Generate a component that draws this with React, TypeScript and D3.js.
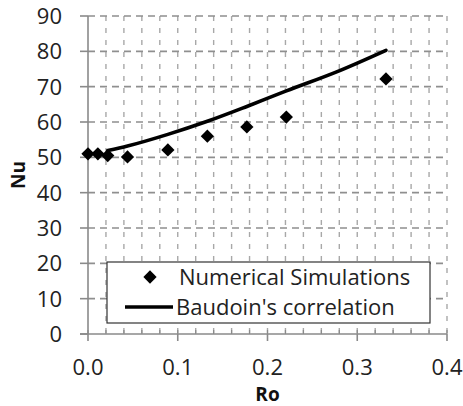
import React from "react";
import * as d3 from "d3";

// Numerical simulation results
const simRo = [0, 0.011, 0.022, 0.044, 0.089, 0.133, 0.177, 0.221, 0.332];
const simNu = [51, 51, 50.5, 50.1, 52.1, 56.0, 58.6, 61.4, 72.2];

// Baudoin's correlation curve
const corrRo = [0.022, 0.044, 0.089, 0.133, 0.177, 0.221, 0.277, 0.332];
const corrNu = [51.9, 53.2, 56.5, 60.2, 64.4, 68.8, 74.2, 80.3];

const xTicks = [0, 0.1, 0.2, 0.3, 0.4];
const xMinor = d3.range(0, 0.4001, 0.02);
const yTicks = [0, 10, 20, 30, 40, 50, 60, 70, 80, 90];

const legendLabels = ["Numerical Simulations", "Baudoin's correlation"];

const W = 463;
const H = 406;
const margin = { left: 88, right: 16, top: 16, bottom: 72 };
const FONT = "'Open Sans', 'Liberation Sans', sans-serif";

export default function App() {
  const x = d3.scaleLinear().domain([0, 0.4]).range([margin.left, W - margin.right]);
  const y = d3.scaleLinear().domain([0, 90]).range([H - margin.bottom, margin.top]);
  const line = d3
    .line<number>()
    .x((_, i) => x(corrRo[i]))
    .y((d) => y(d))
    .curve(d3.curveMonotoneX);
  const diamond = d3.symbol(d3.symbolSquare, 88)();
  const axisColor = "#8a8a8a";
  const x0 = x(0);
  const x1 = x(0.4);
  const y0 = y(0);
  const y1 = y(90);

  const lg = { x: 107, y: 262, w: 323, h: 61 };

  return (
    <svg
      width={W}
      height={H}
      style={{ position: "absolute", left: 0, top: 0, background: "#fff" }}
      fontFamily={FONT}
    >
      {/* vertical grid */}
      {xMinor.slice(1).map((v) => (
        <line
          key={"vx" + v}
          x1={x(v)}
          x2={x(v)}
          y1={y1}
          y2={y0}
          stroke="#a8a8a8"
          strokeWidth={1.4}
          strokeDasharray="5,7"
        />
      ))}
      {/* horizontal grid */}
      {yTicks.slice(1).map((v) => (
        <line
          key={"hy" + v}
          x1={x0}
          x2={x1}
          y1={y(v)}
          y2={y(v)}
          stroke="#8f8f8f"
          strokeWidth={1.6}
          strokeDasharray="7,5"
        />
      ))}
      {/* axes */}
      <line x1={x0} x2={x0} y1={y1} y2={y0} stroke={axisColor} strokeWidth={1.6} />
      <line x1={x0 - 8} x2={x1} y1={y0} y2={y0} stroke={axisColor} strokeWidth={1.6} />
      {yTicks.map((v) => (
        <line key={"yt" + v} x1={x0 - 8} x2={x0} y1={y(v)} y2={y(v)} stroke={axisColor} strokeWidth={1.6} />
      ))}
      {xTicks.map((v) => (
        <line key={"xt" + v} x1={x(v)} x2={x(v)} y1={y0} y2={y0 + 7} stroke={axisColor} strokeWidth={1.6} />
      ))}
      {xMinor.map((v) => (
        <line key={"xm" + v} x1={x(v)} x2={x(v)} y1={y0 - 4} y2={y0} stroke={axisColor} strokeWidth={1.2} />
      ))}
      {/* tick labels */}
      {yTicks.map((v) => (
        <text key={"yl" + v} x={62} y={y(v)} dy="0.36em" textAnchor="end" fontSize={22} fill="#222">
          {v}
        </text>
      ))}
      {xTicks.map((v) => (
        <text key={"xl" + v} x={x(v)} y={375} textAnchor="middle" fontSize={22} fill="#222">
          {v.toFixed(1)}
        </text>
      ))}
      <text x={(x0 + x1) / 2} y={401} textAnchor="middle" fontSize={19} fontWeight="bold" fill="#111">
        Ro
      </text>
      <text
        transform={`translate(25,${(y0 + y1) / 2}) rotate(-90)`}
        textAnchor="middle"
        fontSize={19}
        fontWeight="bold"
        fill="#111"
      >
        Nu
      </text>
      {/* correlation line */}
      <path d={line(corrNu) ?? ""} fill="none" stroke="#000" strokeWidth={3.6} strokeLinecap="round" />
      {/* simulation markers */}
      {simNu.map((v, i) => (
        <path
          key={"p" + i}
          d={diamond ?? ""}
          transform={`translate(${x(simRo[i])},${y(v)}) rotate(45)`}
          fill="#000"
        />
      ))}
      {/* legend */}
      <rect x={lg.x} y={lg.y} width={lg.w} height={lg.h} fill="#fff" stroke="#333" strokeWidth={1.2} />
      <path d={diamond ?? ""} transform={`translate(150,${lg.y + 15}) rotate(45)`} fill="#000" />
      <line x1={125} x2={173} y1={lg.y + 45} y2={lg.y + 45} stroke="#000" strokeWidth={3.6} />
      <text x={179} y={lg.y + 15} dy="0.36em" fontSize={22} fill="#222">
        {legendLabels[0]}
      </text>
      <text x={176} y={lg.y + 45} dy="0.36em" fontSize={22} fill="#222">
        {legendLabels[1]}
      </text>
    </svg>
  );
}
